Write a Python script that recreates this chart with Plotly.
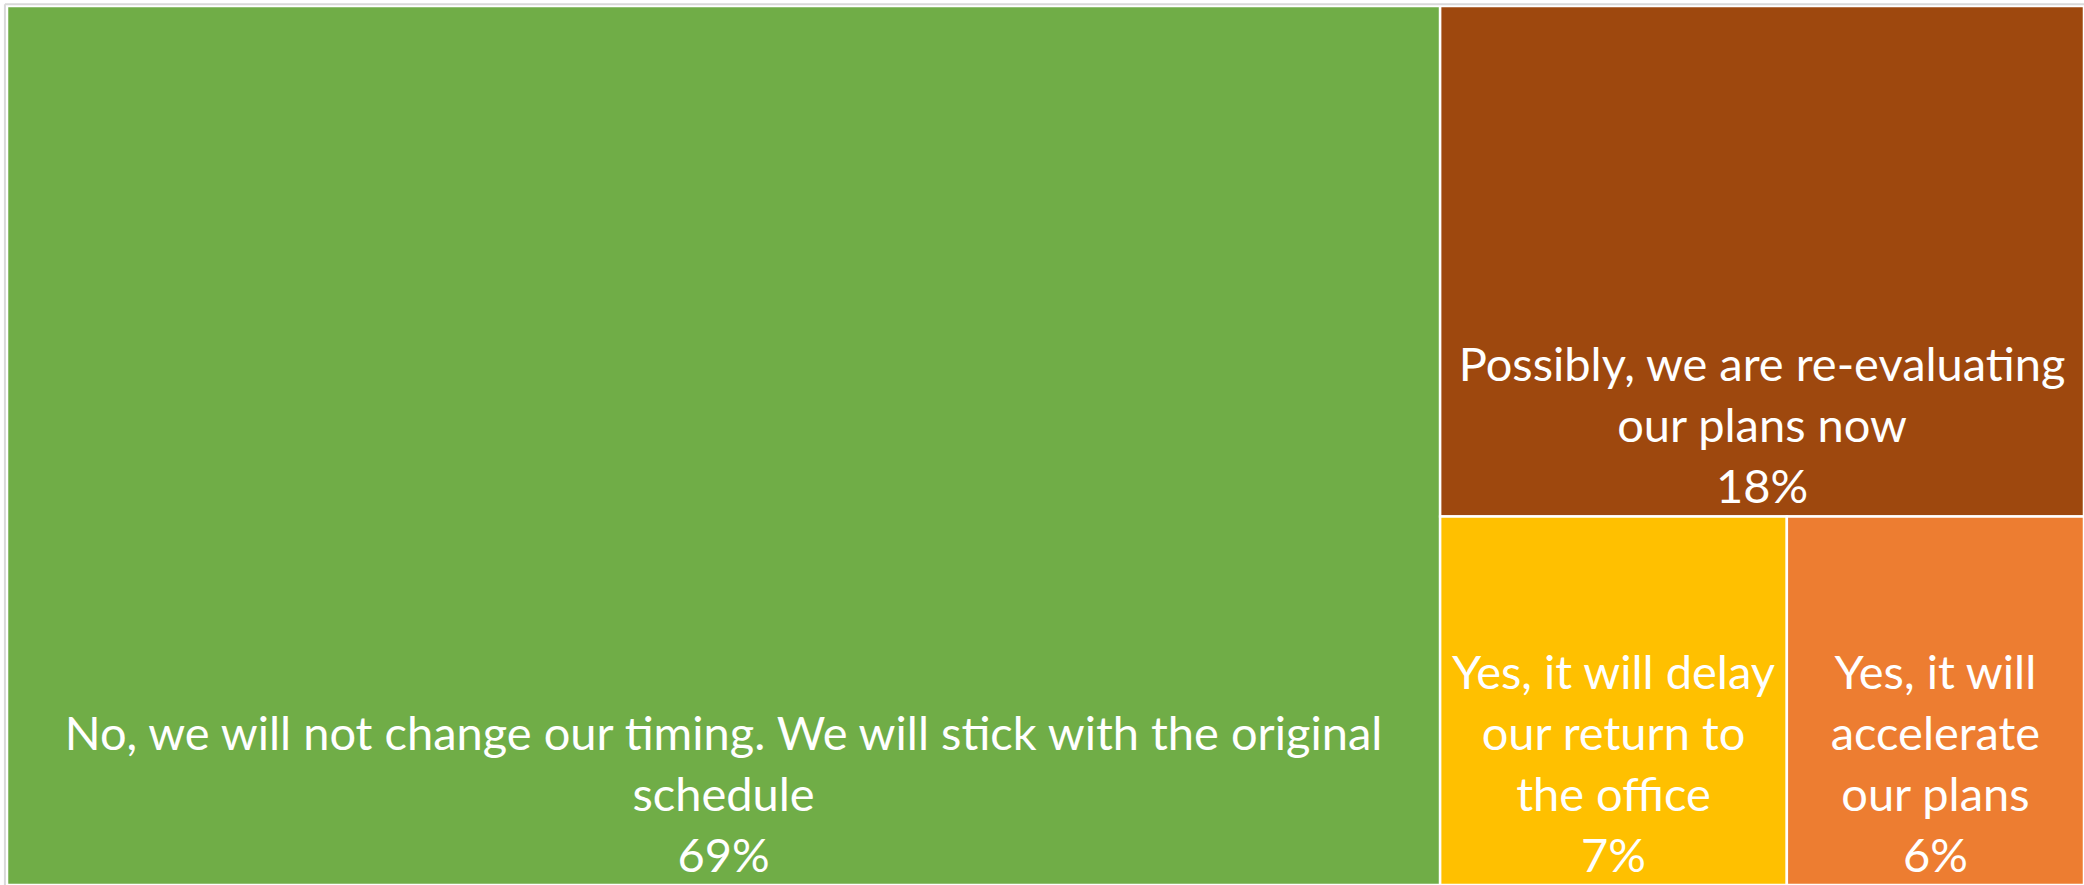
import plotly.graph_objects as go

labels = [
    "No, we will not change our timing. We will stick with the original<br>schedule",
    "Possibly, we are re-evaluating<br>our plans now",
    "Yes, it will delay<br>our return to<br>the office",
    "Yes, it will<br>accelerate<br>our plans",
]
values = [69, 18, 7, 6]
colors = ["#70AD47", "#9E480E", "#FFC000", "#ED7D31"]
parents = ["", "", "", ""]

fig = go.Figure(go.Treemap(
    labels=labels,
    parents=parents,
    values=values,
    sort=True,
    texttemplate="%{label}<br>%{value}%",
    textposition="bottom center",
    textfont=dict(family="Lato", size=47, color="white"),
    marker=dict(colors=colors, line=dict(color="white", width=2.5),
                pad=dict(t=0, l=0, r=0, b=0)),
    tiling=dict(packing="squarify", pad=0),
    pathbar=dict(visible=False),
    hoverinfo="skip",
))

fig.update_layout(
    width=2084, height=885,
    margin=dict(l=7, r=0, t=6, b=0),
    paper_bgcolor="white",
    showlegend=False,
)
fig.add_shape(type="line", xref="paper", yref="paper", x0=-0.001, x1=1, y0=1.002, y1=1.002,
              line=dict(color="#d9d9d9", width=2))
fig.add_shape(type="line", xref="paper", yref="paper", x0=-0.001, x1=-0.001, y0=0, y1=1.002,
              line=dict(color="#d9d9d9", width=2))

fig.write_html("out.html")
